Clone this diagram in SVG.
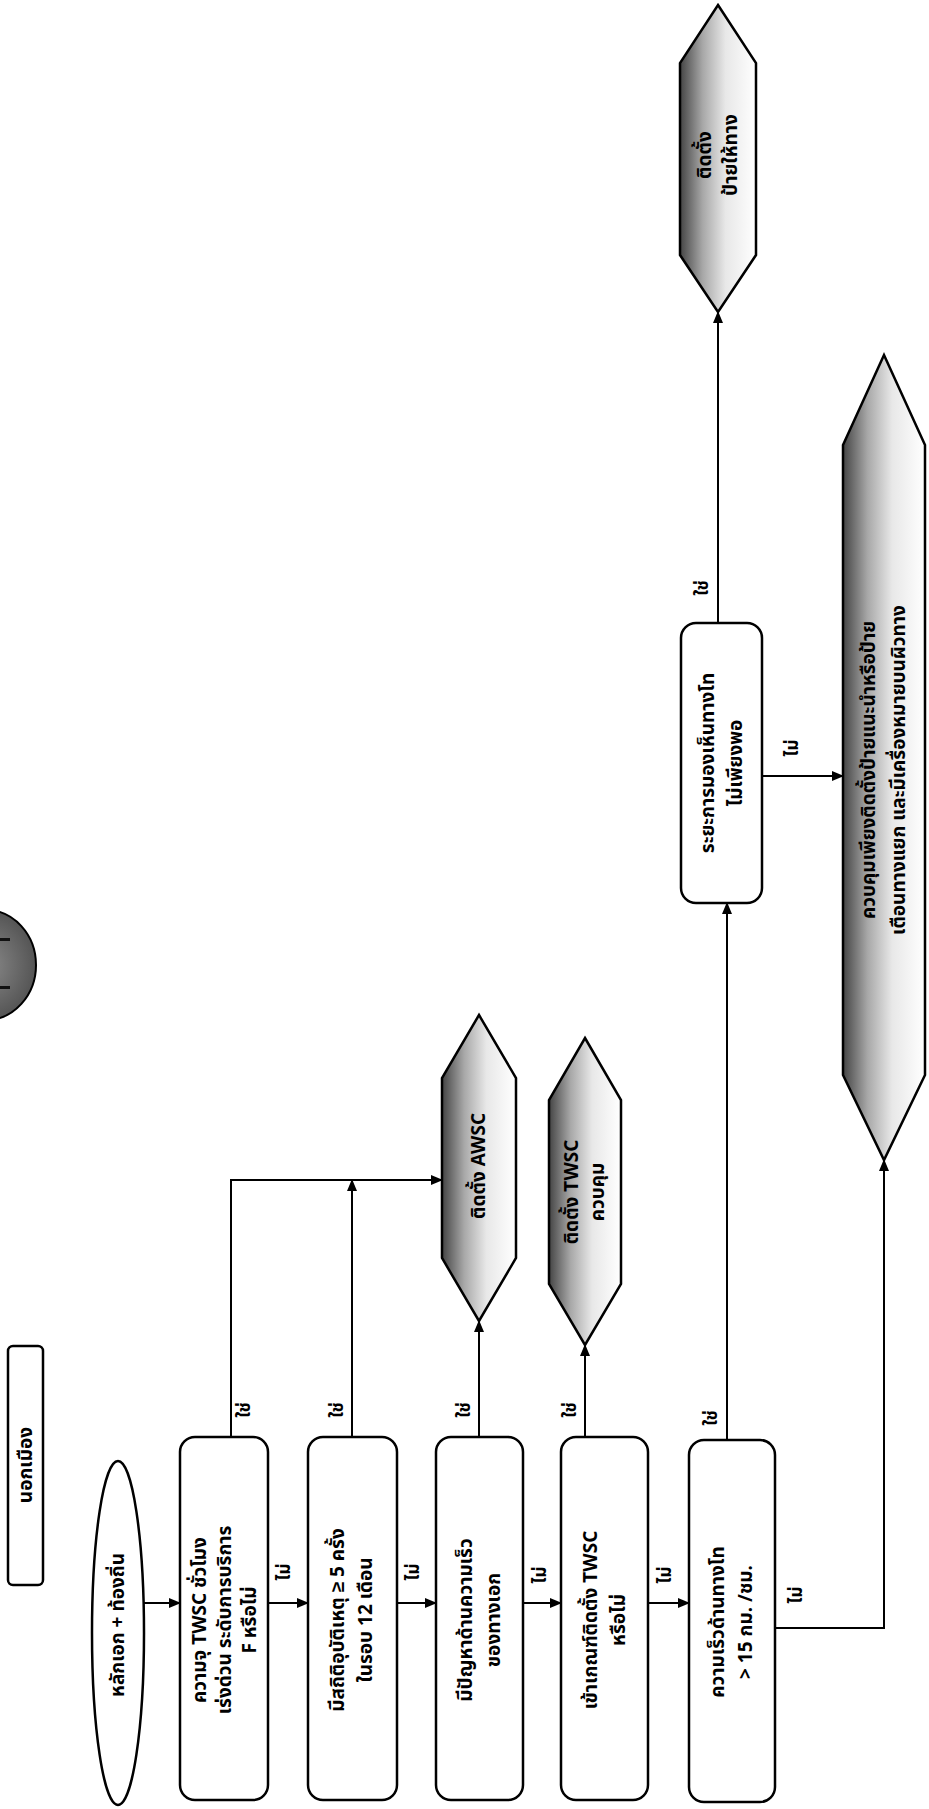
<svg xmlns="http://www.w3.org/2000/svg" width="929" height="1809" viewBox="0 0 929 1809">
<style>
.bx{fill:#fff;stroke:#000;stroke-width:2.5}
.hx{stroke:#000;stroke-width:2.5}
.t{font-family:"Noto Sans Thai","Noto Sans","Liberation Sans",sans-serif;font-weight:bold;font-size:19px;fill:#000;text-anchor:middle;dominant-baseline:central}
.lb{font-family:"Noto Sans Thai","Noto Sans","Liberation Sans",sans-serif;font-weight:bold;font-size:17px;fill:#000;text-anchor:middle;dominant-baseline:central}
.cn{fill:none;stroke:#000;stroke-width:2}
</style>
<defs>
<marker id="ar" markerWidth="12" markerHeight="10" refX="11" refY="5" orient="auto" markerUnits="userSpaceOnUse">
<path d="M0,0 L12,5 L0,10 z" fill="#000"/>
</marker>
<linearGradient id="gr" x1="0" y1="0" x2="1" y2="0">
<stop offset="0" stop-color="#444"/>
<stop offset="0.3" stop-color="#a8a8a8"/>
<stop offset="0.6" stop-color="#e8e8e8"/>
<stop offset="1" stop-color="#ffffff"/>
</linearGradient>
<radialGradient id="cg" cx="0.5" cy="0.5" r="0.5">
<stop offset="0" stop-color="#8a8a8a"/>
<stop offset="1" stop-color="#555"/>
</radialGradient>
</defs>
<rect width="929" height="1809" fill="#fff"/>

<g id="badge">
<ellipse cx="-14" cy="965" rx="50" ry="55" fill="url(#cg)" stroke="#000" stroke-width="2"/>
<rect x="0" y="938" width="10" height="3" fill="#111"/>
<rect x="0" y="986" width="10" height="3" fill="#111"/>
</g>

<g id="n_outer">
<rect class="bx" x="8" y="1346" width="35" height="239" rx="5"/>
<g transform="translate(26,1465) rotate(-90)"><text class="t" x="0" y="0">นอกเมือง</text></g>
</g>

<g id="n_start">
<ellipse class="bx" cx="118" cy="1633" rx="26" ry="172"/>
<g transform="translate(118,1625) rotate(-90)"><text class="t" x="0" y="0">หลักเอก + ท้องถิ่น</text></g>
</g>

<g id="n_b1">
<rect class="bx" x="180" y="1437" width="88" height="363" rx="15"/>
<g transform="translate(225,1620) rotate(-90)">
<text class="t" x="0" y="-25">ความจุ TWSC ชั่วโมง</text>
<text class="t" x="0" y="0">เร่งด่วน ระดับการบริการ</text>
<text class="t" x="0" y="25">F หรือไม่</text>
</g>
</g>

<g id="n_b2">
<rect class="bx" x="308" y="1437" width="89" height="363" rx="15"/>
<g transform="translate(352,1620) rotate(-90)">
<text class="t" x="0" y="-14">มีสถิติอุบัติเหตุ ≥ 5 ครั้ง</text>
<text class="t" x="0" y="14">ในรอบ 12 เดือน</text>
</g>
</g>

<g id="n_b3">
<rect class="bx" x="436" y="1437" width="87" height="363" rx="15"/>
<g transform="translate(480,1620) rotate(-90)">
<text class="t" x="0" y="-14">มีปัญหาด้านความเร็ว</text>
<text class="t" x="0" y="14">ของทางเอก</text>
</g>
</g>

<g id="n_b4">
<rect class="bx" x="561" y="1437" width="87" height="363" rx="15"/>
<g transform="translate(605,1620) rotate(-90)">
<text class="t" x="0" y="-14">เข้าเกณฑ์ติดตั้ง TWSC</text>
<text class="t" x="0" y="14">หรือไม่</text>
</g>
</g>

<g id="n_b5">
<rect class="bx" x="689" y="1440" width="86" height="362" rx="15"/>
<g transform="translate(732,1622) rotate(-90)">
<text class="t" x="0" y="-14">ความเร็วด้านทางโท</text>
<text class="t" x="0" y="14">&gt; 15 กม. /ชม.</text>
</g>
</g>

<g id="n_b6">
<rect class="bx" x="681" y="623" width="81" height="280" rx="15"/>
<g transform="translate(722,763) rotate(-90)">
<text class="t" x="0" y="-14">ระยะการมองเห็นทางโท</text>
<text class="t" x="0" y="14">ไม่เพียงพอ</text>
</g>
</g>

<g id="n_awsc">
<polygon class="hx" fill="url(#gr)" points="479,1015 516,1078 516,1258 479,1321 442,1258 442,1078"/>
<g transform="translate(479,1166) rotate(-90)"><text class="t" x="0" y="0">ติดตั้ง AWSC</text></g>
</g>

<g id="n_twsc">
<polygon class="hx" fill="url(#gr)" points="585,1038 621,1100 621,1284 585,1345 549,1284 549,1100"/>
<g transform="translate(585,1192) rotate(-90)">
<text class="t" x="0" y="-13">ติดตั้ง TWSC</text>
<text class="t" x="0" y="13">ควบคุม</text>
</g>
</g>

<g id="n_yield">
<polygon class="hx" fill="url(#gr)" points="718,5 756,63 756,255 718,312 680,255 680,63"/>
<g transform="translate(718,155) rotate(-90)">
<text class="t" x="0" y="-13">ติดตั้ง</text>
<text class="t" x="0" y="13">ป้ายให้ทาง</text>
</g>
</g>

<g id="n_final">
<polygon class="hx" fill="url(#gr)" points="884,355 925,445 925,1075 884,1160 843,1075 843,445"/>
<g transform="translate(884,770) rotate(-90)">
<text class="t" x="0" y="-15">ควบคุมเพียงติดตั้งป้ายแนะนำหรือป้าย</text>
<text class="t" x="0" y="15">เตือนทางแยก และมีเครื่องหมายบนผิวทาง</text>
</g>
</g>

<g id="connectors">
<line class="cn" x1="144" y1="1603" x2="180" y2="1603" marker-end="url(#ar)"/>
<line class="cn" x1="268" y1="1603" x2="308" y2="1603" marker-end="url(#ar)"/>
<line class="cn" x1="397" y1="1603" x2="436" y2="1603" marker-end="url(#ar)"/>
<line class="cn" x1="523" y1="1603" x2="561" y2="1603" marker-end="url(#ar)"/>
<line class="cn" x1="648" y1="1603" x2="689" y2="1603" marker-end="url(#ar)"/>
<polyline class="cn" points="231,1437 231,1180 442,1180" marker-end="url(#ar)"/>
<line class="cn" x1="352" y1="1437" x2="352" y2="1180" marker-end="url(#ar)"/>
<line class="cn" x1="479" y1="1437" x2="479" y2="1321" marker-end="url(#ar)"/>
<line class="cn" x1="585" y1="1437" x2="585" y2="1345" marker-end="url(#ar)"/>
<line class="cn" x1="727" y1="1440" x2="727" y2="903" marker-end="url(#ar)"/>
<line class="cn" x1="718" y1="623" x2="718" y2="312" marker-end="url(#ar)"/>
<line class="cn" x1="762" y1="776" x2="843" y2="776" marker-end="url(#ar)"/>
<polyline class="cn" points="775,1628 884,1628 884,1160" marker-end="url(#ar)"/>

<g transform="translate(245,1410) rotate(-90)"><text class="lb">ใช่</text></g>
<g transform="translate(338,1410) rotate(-90)"><text class="lb">ใช่</text></g>
<g transform="translate(465,1410) rotate(-90)"><text class="lb">ใช่</text></g>
<g transform="translate(571,1410) rotate(-90)"><text class="lb">ใช่</text></g>
<g transform="translate(712,1418) rotate(-90)"><text class="lb">ใช่</text></g>
<g transform="translate(703,588) rotate(-90)"><text class="lb">ใช่</text></g>

<g transform="translate(285,1572) rotate(-90)"><text class="lb">ไม่</text></g>
<g transform="translate(414,1572) rotate(-90)"><text class="lb">ไม่</text></g>
<g transform="translate(541,1575) rotate(-90)"><text class="lb">ไม่</text></g>
<g transform="translate(666,1575) rotate(-90)"><text class="lb">ไม่</text></g>
<g transform="translate(797,1595) rotate(-90)"><text class="lb">ไม่</text></g>
<g transform="translate(793,748) rotate(-90)"><text class="lb">ไม่</text></g>
</g>
</svg>
